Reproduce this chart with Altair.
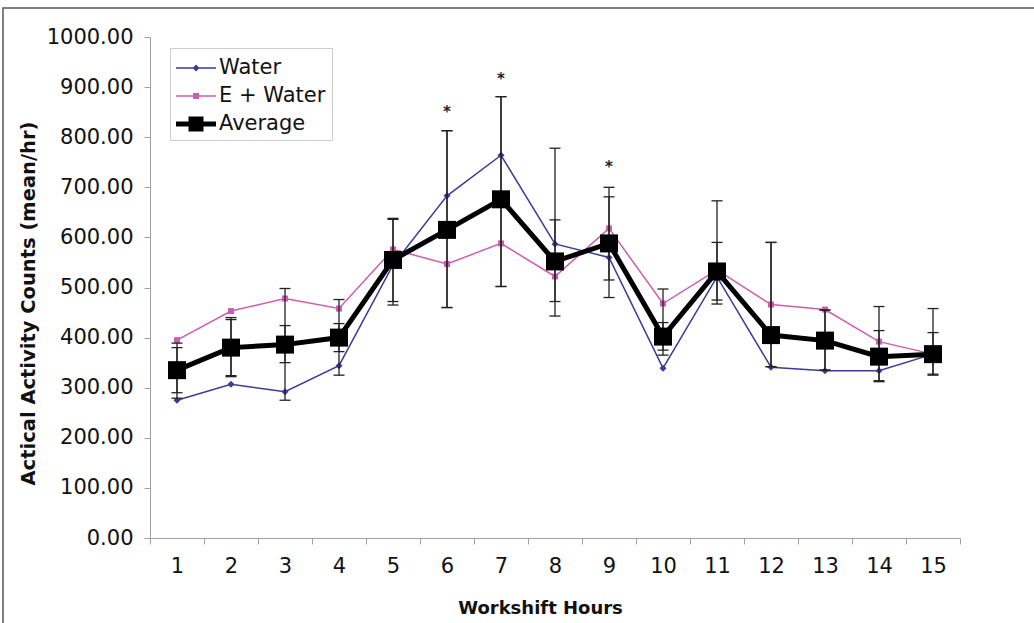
import altair as alt
import pandas as pd

hours = list(range(1, 16))
water = [275, 307, 292, 344, 545, 683, 764, 587, 560, 339, 521, 341, 334, 334, 367]
e_water = [395, 453, 478, 458, 576, 547, 588, 522, 618, 468, 535, 466, 456, 392, 367]
average = [335, 380, 386, 400, 555, 615, 676, 552, 588, 402, 532, 405, 394, 362, 367]
err_a_lo = [279, 322, 275, 325, 465, 460, 502, 443, 480, 365, 467, 342, 335, 312, 327]
err_a_hi = [389, 440, 498, 476, 638, 813, 881, 778, 700, 497, 673, 590, 455, 462, 458]
err_b_lo = [290, 324, 350, 372, 472, 460, 502, 472, 515, 375, 475, 342, 335, 314, 325]
err_b_hi = [380, 436, 424, 428, 636, 813, 881, 635, 681, 430, 590, 590, 455, 414, 410]
star_hours = [6, 7, 9]
star_values = [850, 916, 740]
y_ticks = [0, 100, 200, 300, 400, 500, 600, 700, 800, 900, 1000]

series_names = ["Water", "E + Water", "Average"]
series_colors = ["#3b3b9b", "#cc5db4", "#000000"]
legend_paths = [
    "M-1,-0.054H1.857V0.054H-1Z M0.179,0L0.429,-0.25L0.679,0L0.429,0.25Z",
    "M-1,-0.054H1.857V0.054H-1Z M0.214,-0.214H0.643V0.214H0.214Z",
    "M-1,-0.179H1.857V0.179H-1Z M-0.107,-0.536H0.964V0.536H-0.107Z",
]

water_df = pd.DataFrame({"hour": hours, "value": water})
ew_df = pd.DataFrame({"hour": hours, "value": e_water})
avg_df = pd.DataFrame({"hour": hours, "value": average})
err_df = pd.DataFrame({"hour": hours * 2, "lo": err_a_lo + err_b_lo, "hi": err_a_hi + err_b_hi})
star_df = pd.DataFrame({"hour": star_hours, "value": star_values})
legend_df = pd.DataFrame({"series": series_names})

FONT = "DejaVu Sans"

x_enc = alt.X(
    "hour:O",
    scale=alt.Scale(domain=hours, paddingInner=0, paddingOuter=0),
    axis=alt.Axis(labelAngle=0, tickBand="extent", tickSize=6, labelPadding=11,
                  titleX=390, titleY=70, titleBaseline="middle", titleAlign="center",
                  titleFontSize=18,
                  domainColor="#a0a0a0", tickColor="#a0a0a0"),
    title="Workshift Hours",
)
y_scale = alt.Scale(domain=[0, 1000], nice=False, zero=True)
y_axis = alt.Axis(values=y_ticks, format=".2f", tickSize=6, labelPadding=11,
                  titleX=-122, titleY=266, titleBaseline="middle", titleAlign="center",
                  titleAngle=270, titleFontSize=19.5,
                  domainColor="#a0a0a0", tickColor="#a0a0a0")
Y_TITLE = "Actical Activity Counts (mean/hr)"


def ye(field):
    return alt.Y(f"{field}:Q", scale=y_scale, axis=y_axis, title=Y_TITLE)


frame = alt.Chart(alt.Data(values=[{"a": 1}])).mark_rect(
    fillOpacity=0, stroke="#555555", strokeWidth=1.5
).encode(x=alt.value(-147), x2=alt.value(900), y=alt.value(-29), y2=alt.value(700))

water_line = alt.Chart(water_df).mark_line(color=series_colors[0], strokeWidth=1.5).encode(x=x_enc, y=ye("value"))
water_pts = alt.Chart(water_df).mark_point(shape="diamond", filled=True, size=49, opacity=1,
                                           color=series_colors[0]).encode(x=x_enc, y=ye("value"))
ew_line = alt.Chart(ew_df).mark_line(color=series_colors[1], strokeWidth=1.5).encode(x=x_enc, y=ye("value"))
ew_pts = alt.Chart(ew_df).mark_point(shape="square", filled=True, size=36, opacity=1,
                                     color=series_colors[1]).encode(x=x_enc, y=ye("value"))

err_rule = alt.Chart(err_df).mark_rule(color="#222222", strokeWidth=1.3).encode(
    x=x_enc, y=ye("lo"), y2="hi:Q")
err_lo = alt.Chart(err_df).mark_tick(color="#222222", thickness=1.3, size=11, opacity=1).encode(x=x_enc, y=ye("lo"))
err_hi = alt.Chart(err_df).mark_tick(color="#222222", thickness=1.3, size=11, opacity=1).encode(x=x_enc, y=ye("hi"))

avg_line = alt.Chart(avg_df).mark_line(color="#000000", strokeWidth=5).encode(x=x_enc, y=ye("value"))
avg_pts = alt.Chart(avg_df).mark_point(shape="square", filled=True, size=324, opacity=1,
                                       color="#000000").encode(x=x_enc, y=ye("value"))

stars = alt.Chart(star_df).mark_text(text="*", fontSize=15, font=FONT, fontWeight="bold",
                                     color="#222222", baseline="middle").encode(x=x_enc, y=ye("value"))

legend_layer = alt.Chart(legend_df).transform_filter("false").mark_point(filled=True, opacity=1).encode(
    x=x_enc,
    y=ye("value"),
    color=alt.Color("series:N", scale=alt.Scale(domain=series_names, range=series_colors),
                    legend=alt.Legend(title=None, orient="none", legendX=20, legendY=11)),
    shape=alt.Shape("series:N", scale=alt.Scale(domain=series_names, range=legend_paths)),
)

chart = alt.layer(
    frame, water_line, water_pts, ew_line, ew_pts, err_rule, err_lo, err_hi,
    avg_line, avg_pts, stars, legend_layer
).properties(
    width=810, height=501,
    autosize=alt.AutoSizeParams(type="none"),
    padding={"left": 150, "top": 37, "right": 74, "bottom": 85},
    background="white",
).configure_view(strokeWidth=0).configure_axis(
    labelFont=FONT, labelFontSize=21, labelColor="#111111",
    titleFont=FONT, titleFontWeight="bold", titleColor="#111111",
    grid=False,
).configure_legend(
    labelFont=FONT, labelFontSize=21, labelColor="#111111",
    symbolSize=784, labelOffset=15, strokeColor="#cccccc", fillColor="white",
    padding=6, rowPadding=4, symbolStrokeWidth=0, symbolOpacity=1,
)

chart.save("out.html", embed_options={"renderer": "svg", "actions": False})
